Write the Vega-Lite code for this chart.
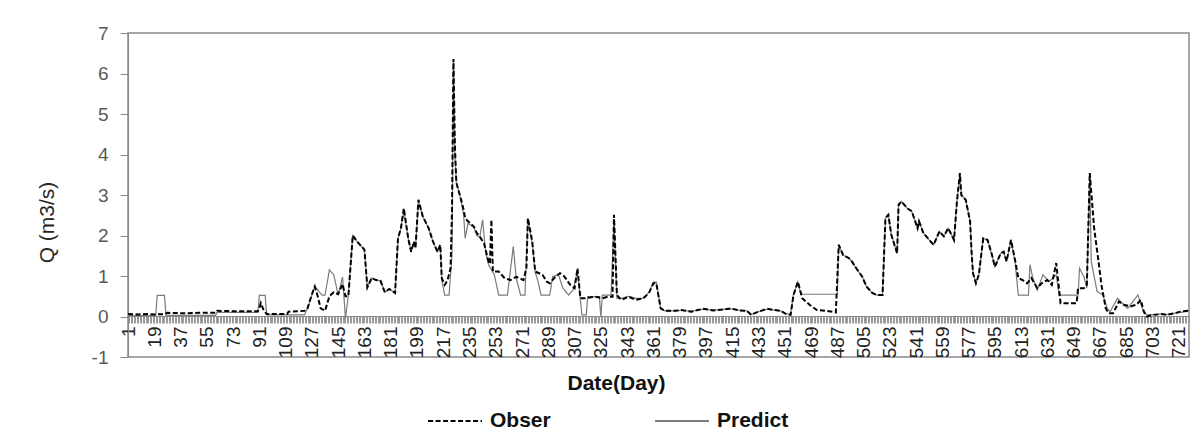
{
"$schema": "https://vega.github.io/schema/vega-lite/v6.json",
"width": 1061, "height": 324,
"autosize": {"type": "none"},
"padding": {"left": 128, "top": 33, "right": 11, "bottom": 85},
"background": "white",
"config": {"view": {"stroke": "#898989", "strokeWidth": 1.5}, "font": "Liberation Sans"},
"data": {"values": [
{"Series":"Obser","Day":1,"Q":0.06},{"Series":"Obser","Day":8,"Q":0.05},{"Series":"Obser","Day":14,"Q":0.06},{"Series":"Obser","Day":20,"Q":0.05},{"Series":"Obser","Day":26,"Q":0.06},{"Series":"Obser","Day":28,"Q":0.09},{"Series":"Obser","Day":40,"Q":0.08},{"Series":"Obser","Day":50,"Q":0.09},{"Series":"Obser","Day":61,"Q":0.09},{"Series":"Obser","Day":62,"Q":0.14},{"Series":"Obser","Day":75,"Q":0.13},{"Series":"Obser","Day":90,"Q":0.13},{"Series":"Obser","Day":91,"Q":0.2},{"Series":"Obser","Day":92,"Q":0.33},{"Series":"Obser","Day":94,"Q":0.15},{"Series":"Obser","Day":96,"Q":0.06},{"Series":"Obser","Day":110,"Q":0.06},{"Series":"Obser","Day":111,"Q":0.12},{"Series":"Obser","Day":118,"Q":0.13},{"Series":"Obser","Day":122,"Q":0.14},{"Series":"Obser","Day":124,"Q":0.2},{"Series":"Obser","Day":127,"Q":0.55},{"Series":"Obser","Day":129,"Q":0.74},{"Series":"Obser","Day":131,"Q":0.5},{"Series":"Obser","Day":133,"Q":0.2},{"Series":"Obser","Day":136,"Q":0.14},{"Series":"Obser","Day":139,"Q":0.5},{"Series":"Obser","Day":142,"Q":0.6},{"Series":"Obser","Day":145,"Q":0.55},{"Series":"Obser","Day":148,"Q":0.8},{"Series":"Obser","Day":150,"Q":0.5},{"Series":"Obser","Day":152,"Q":0.5},{"Series":"Obser","Day":155,"Q":2.0},{"Series":"Obser","Day":158,"Q":1.85},{"Series":"Obser","Day":161,"Q":1.73},{"Series":"Obser","Day":163,"Q":1.65},{"Series":"Obser","Day":165,"Q":0.72},{"Series":"Obser","Day":168,"Q":0.95},{"Series":"Obser","Day":171,"Q":0.9},{"Series":"Obser","Day":174,"Q":0.88},{"Series":"Obser","Day":177,"Q":0.6},{"Series":"Obser","Day":180,"Q":0.68},{"Series":"Obser","Day":184,"Q":0.58},{"Series":"Obser","Day":186,"Q":1.93},{"Series":"Obser","Day":188,"Q":2.18},{"Series":"Obser","Day":190,"Q":2.67},{"Series":"Obser","Day":193,"Q":1.93},{"Series":"Obser","Day":195,"Q":1.6},{"Series":"Obser","Day":197,"Q":1.85},{"Series":"Obser","Day":198,"Q":1.69},{"Series":"Obser","Day":200,"Q":2.88},{"Series":"Obser","Day":203,"Q":2.47},{"Series":"Obser","Day":207,"Q":2.18},{"Series":"Obser","Day":210,"Q":1.85},{"Series":"Obser","Day":213,"Q":1.6},{"Series":"Obser","Day":215,"Q":1.77},{"Series":"Obser","Day":216,"Q":0.95},{"Series":"Obser","Day":218,"Q":0.78},{"Series":"Obser","Day":220,"Q":0.9},{"Series":"Obser","Day":222,"Q":1.19},{"Series":"Obser","Day":223,"Q":2.6},{"Series":"Obser","Day":224,"Q":6.36},{"Series":"Obser","Day":225,"Q":4.2},{"Series":"Obser","Day":226,"Q":3.3},{"Series":"Obser","Day":229,"Q":2.92},{"Series":"Obser","Day":231,"Q":2.63},{"Series":"Obser","Day":232,"Q":2.43},{"Series":"Obser","Day":234,"Q":2.35},{"Series":"Obser","Day":238,"Q":2.22},{"Series":"Obser","Day":240,"Q":2.06},{"Series":"Obser","Day":242,"Q":1.98},{"Series":"Obser","Day":245,"Q":1.8},{"Series":"Obser","Day":248,"Q":1.36},{"Series":"Obser","Day":249,"Q":1.3},{"Series":"Obser","Day":250,"Q":2.39},{"Series":"Obser","Day":251,"Q":1.11},{"Series":"Obser","Day":255,"Q":1.11},{"Series":"Obser","Day":259,"Q":0.95},{"Series":"Obser","Day":263,"Q":0.9},{"Series":"Obser","Day":267,"Q":0.98},{"Series":"Obser","Day":272,"Q":0.9},{"Series":"Obser","Day":274,"Q":1.2},{"Series":"Obser","Day":275,"Q":2.43},{"Series":"Obser","Day":278,"Q":1.85},{"Series":"Obser","Day":280,"Q":1.11},{"Series":"Obser","Day":285,"Q":1.03},{"Series":"Obser","Day":288,"Q":0.86},{"Series":"Obser","Day":290,"Q":0.82},{"Series":"Obser","Day":294,"Q":0.99},{"Series":"Obser","Day":297,"Q":1.07},{"Series":"Obser","Day":300,"Q":0.99},{"Series":"Obser","Day":304,"Q":0.78},{"Series":"Obser","Day":307,"Q":0.7},{"Series":"Obser","Day":309,"Q":1.19},{"Series":"Obser","Day":311,"Q":0.45},{"Series":"Obser","Day":314,"Q":0.45},{"Series":"Obser","Day":321,"Q":0.49},{"Series":"Obser","Day":326,"Q":0.45},{"Series":"Obser","Day":330,"Q":0.49},{"Series":"Obser","Day":333,"Q":0.49},{"Series":"Obser","Day":334,"Q":2.51},{"Series":"Obser","Day":336,"Q":0.53},{"Series":"Obser","Day":339,"Q":0.41},{"Series":"Obser","Day":344,"Q":0.49},{"Series":"Obser","Day":349,"Q":0.41},{"Series":"Obser","Day":354,"Q":0.45},{"Series":"Obser","Day":358,"Q":0.58},{"Series":"Obser","Day":361,"Q":0.82},{"Series":"Obser","Day":363,"Q":0.82},{"Series":"Obser","Day":366,"Q":0.2},{"Series":"Obser","Day":369,"Q":0.14},{"Series":"Obser","Day":376,"Q":0.14},{"Series":"Obser","Day":380,"Q":0.16},{"Series":"Obser","Day":387,"Q":0.12},{"Series":"Obser","Day":395,"Q":0.19},{"Series":"Obser","Day":402,"Q":0.15},{"Series":"Obser","Day":408,"Q":0.17},{"Series":"Obser","Day":414,"Q":0.2},{"Series":"Obser","Day":420,"Q":0.15},{"Series":"Obser","Day":425,"Q":0.14},{"Series":"Obser","Day":428,"Q":0.04},{"Series":"Obser","Day":433,"Q":0.12},{"Series":"Obser","Day":439,"Q":0.19},{"Series":"Obser","Day":444,"Q":0.16},{"Series":"Obser","Day":448,"Q":0.14},{"Series":"Obser","Day":452,"Q":0.06},{"Series":"Obser","Day":455,"Q":0.04},{"Series":"Obser","Day":457,"Q":0.53},{"Series":"Obser","Day":460,"Q":0.86},{"Series":"Obser","Day":463,"Q":0.45},{"Series":"Obser","Day":468,"Q":0.29},{"Series":"Obser","Day":473,"Q":0.16},{"Series":"Obser","Day":480,"Q":0.14},{"Series":"Obser","Day":486,"Q":0.1},{"Series":"Obser","Day":488,"Q":1.77},{"Series":"Obser","Day":491,"Q":1.52},{"Series":"Obser","Day":495,"Q":1.44},{"Series":"Obser","Day":497,"Q":1.36},{"Series":"Obser","Day":500,"Q":1.19},{"Series":"Obser","Day":504,"Q":0.99},{"Series":"Obser","Day":507,"Q":0.74},{"Series":"Obser","Day":511,"Q":0.58},{"Series":"Obser","Day":514,"Q":0.53},{"Series":"Obser","Day":518,"Q":0.53},{"Series":"Obser","Day":520,"Q":2.43},{"Series":"Obser","Day":522,"Q":2.51},{"Series":"Obser","Day":524,"Q":2.02},{"Series":"Obser","Day":528,"Q":1.56},{"Series":"Obser","Day":529,"Q":2.76},{"Series":"Obser","Day":531,"Q":2.84},{"Series":"Obser","Day":535,"Q":2.67},{"Series":"Obser","Day":538,"Q":2.6},{"Series":"Obser","Day":542,"Q":2.18},{"Series":"Obser","Day":543,"Q":2.35},{"Series":"Obser","Day":546,"Q":2.06},{"Series":"Obser","Day":550,"Q":1.89},{"Series":"Obser","Day":553,"Q":1.77},{"Series":"Obser","Day":557,"Q":2.1},{"Series":"Obser","Day":560,"Q":1.98},{"Series":"Obser","Day":563,"Q":2.18},{"Series":"Obser","Day":567,"Q":1.89},{"Series":"Obser","Day":569,"Q":2.84},{"Series":"Obser","Day":571,"Q":3.54},{"Series":"Obser","Day":572,"Q":3.0},{"Series":"Obser","Day":575,"Q":2.88},{"Series":"Obser","Day":578,"Q":2.35},{"Series":"Obser","Day":579,"Q":1.6},{"Series":"Obser","Day":580,"Q":1.07},{"Series":"Obser","Day":582,"Q":0.82},{"Series":"Obser","Day":584,"Q":1.03},{"Series":"Obser","Day":587,"Q":1.93},{"Series":"Obser","Day":590,"Q":1.89},{"Series":"Obser","Day":593,"Q":1.52},{"Series":"Obser","Day":595,"Q":1.23},{"Series":"Obser","Day":599,"Q":1.56},{"Series":"Obser","Day":601,"Q":1.6},{"Series":"Obser","Day":603,"Q":1.36},{"Series":"Obser","Day":606,"Q":1.89},{"Series":"Obser","Day":609,"Q":1.36},{"Series":"Obser","Day":611,"Q":0.95},{"Series":"Obser","Day":614,"Q":0.9},{"Series":"Obser","Day":617,"Q":0.82},{"Series":"Obser","Day":620,"Q":0.95},{"Series":"Obser","Day":624,"Q":0.7},{"Series":"Obser","Day":627,"Q":0.82},{"Series":"Obser","Day":631,"Q":0.9},{"Series":"Obser","Day":634,"Q":0.78},{"Series":"Obser","Day":637,"Q":1.32},{"Series":"Obser","Day":640,"Q":0.33},{"Series":"Obser","Day":651,"Q":0.33},{"Series":"Obser","Day":652,"Q":0.7},{"Series":"Obser","Day":656,"Q":0.7},{"Series":"Obser","Day":658,"Q":0.78},{"Series":"Obser","Day":660,"Q":3.54},{"Series":"Obser","Day":663,"Q":2.18},{"Series":"Obser","Day":666,"Q":1.36},{"Series":"Obser","Day":668,"Q":0.78},{"Series":"Obser","Day":671,"Q":0.2},{"Series":"Obser","Day":673,"Q":0.08},{"Series":"Obser","Day":676,"Q":0.08},{"Series":"Obser","Day":680,"Q":0.37},{"Series":"Obser","Day":683,"Q":0.29},{"Series":"Obser","Day":688,"Q":0.25},{"Series":"Obser","Day":692,"Q":0.29},{"Series":"Obser","Day":695,"Q":0.41},{"Series":"Obser","Day":697,"Q":0.12},{"Series":"Obser","Day":699,"Q":0.0},{"Series":"Obser","Day":704,"Q":0.04},{"Series":"Obser","Day":709,"Q":0.06},{"Series":"Obser","Day":713,"Q":0.04},{"Series":"Obser","Day":718,"Q":0.08},{"Series":"Obser","Day":722,"Q":0.12},{"Series":"Obser","Day":727,"Q":0.14},{"Series":"Obser","Day":728,"Q":0.12},
{"Series":"Predict","Day":1,"Q":0.02},{"Series":"Predict","Day":20,"Q":0.02},{"Series":"Predict","Day":21,"Q":0.52},{"Series":"Predict","Day":26,"Q":0.52},{"Series":"Predict","Day":27,"Q":0.03},{"Series":"Predict","Day":61,"Q":0.03},{"Series":"Predict","Day":62,"Q":0.1},{"Series":"Predict","Day":90,"Q":0.1},{"Series":"Predict","Day":91,"Q":0.52},{"Series":"Predict","Day":95,"Q":0.52},{"Series":"Predict","Day":96,"Q":0.04},{"Series":"Predict","Day":122,"Q":0.04},{"Series":"Predict","Day":125,"Q":0.3},{"Series":"Predict","Day":127,"Q":0.53},{"Series":"Predict","Day":129,"Q":0.74},{"Series":"Predict","Day":134,"Q":0.53},{"Series":"Predict","Day":136,"Q":0.53},{"Series":"Predict","Day":139,"Q":1.15},{"Series":"Predict","Day":142,"Q":1.03},{"Series":"Predict","Day":145,"Q":0.53},{"Series":"Predict","Day":148,"Q":0.98},{"Series":"Predict","Day":150,"Q":-0.05},{"Series":"Predict","Day":152,"Q":0.53},{"Series":"Predict","Day":155,"Q":2.0},{"Series":"Predict","Day":158,"Q":1.85},{"Series":"Predict","Day":161,"Q":1.73},{"Series":"Predict","Day":163,"Q":1.65},{"Series":"Predict","Day":165,"Q":0.72},{"Series":"Predict","Day":168,"Q":0.95},{"Series":"Predict","Day":171,"Q":0.9},{"Series":"Predict","Day":174,"Q":0.88},{"Series":"Predict","Day":177,"Q":0.6},{"Series":"Predict","Day":180,"Q":0.68},{"Series":"Predict","Day":184,"Q":0.58},{"Series":"Predict","Day":186,"Q":1.93},{"Series":"Predict","Day":188,"Q":2.18},{"Series":"Predict","Day":190,"Q":2.6},{"Series":"Predict","Day":193,"Q":1.93},{"Series":"Predict","Day":195,"Q":1.6},{"Series":"Predict","Day":197,"Q":1.85},{"Series":"Predict","Day":198,"Q":1.69},{"Series":"Predict","Day":200,"Q":2.85},{"Series":"Predict","Day":203,"Q":2.47},{"Series":"Predict","Day":207,"Q":2.18},{"Series":"Predict","Day":210,"Q":1.85},{"Series":"Predict","Day":213,"Q":1.6},{"Series":"Predict","Day":215,"Q":1.7},{"Series":"Predict","Day":216,"Q":0.9},{"Series":"Predict","Day":218,"Q":0.53},{"Series":"Predict","Day":221,"Q":0.53},{"Series":"Predict","Day":223,"Q":1.5},{"Series":"Predict","Day":224,"Q":6.3},{"Series":"Predict","Day":225,"Q":4.0},{"Series":"Predict","Day":226,"Q":3.3},{"Series":"Predict","Day":229,"Q":2.9},{"Series":"Predict","Day":231,"Q":2.5},{"Series":"Predict","Day":232,"Q":1.93},{"Series":"Predict","Day":234,"Q":2.3},{"Series":"Predict","Day":238,"Q":2.2},{"Series":"Predict","Day":240,"Q":2.0},{"Series":"Predict","Day":242,"Q":1.95},{"Series":"Predict","Day":244,"Q":2.39},{"Series":"Predict","Day":246,"Q":1.6},{"Series":"Predict","Day":248,"Q":1.28},{"Series":"Predict","Day":252,"Q":1.03},{"Series":"Predict","Day":255,"Q":0.53},{"Series":"Predict","Day":261,"Q":0.53},{"Series":"Predict","Day":265,"Q":1.73},{"Series":"Predict","Day":267,"Q":0.95},{"Series":"Predict","Day":270,"Q":0.53},{"Series":"Predict","Day":273,"Q":0.53},{"Series":"Predict","Day":275,"Q":2.4},{"Series":"Predict","Day":278,"Q":1.8},{"Series":"Predict","Day":280,"Q":1.1},{"Series":"Predict","Day":282,"Q":0.86},{"Series":"Predict","Day":284,"Q":0.53},{"Series":"Predict","Day":290,"Q":0.53},{"Series":"Predict","Day":292,"Q":0.99},{"Series":"Predict","Day":296,"Q":1.03},{"Series":"Predict","Day":299,"Q":0.7},{"Series":"Predict","Day":303,"Q":0.53},{"Series":"Predict","Day":306,"Q":0.66},{"Series":"Predict","Day":309,"Q":1.11},{"Series":"Predict","Day":312,"Q":0.04},{"Series":"Predict","Day":315,"Q":0.04},{"Series":"Predict","Day":316,"Q":0.49},{"Series":"Predict","Day":324,"Q":0.49},{"Series":"Predict","Day":325,"Q":-0.02},{"Series":"Predict","Day":326,"Q":0.53},{"Series":"Predict","Day":332,"Q":0.53},{"Series":"Predict","Day":334,"Q":2.4},{"Series":"Predict","Day":336,"Q":0.45},{"Series":"Predict","Day":339,"Q":0.45},{"Series":"Predict","Day":344,"Q":0.5},{"Series":"Predict","Day":349,"Q":0.45},{"Series":"Predict","Day":354,"Q":0.45},{"Series":"Predict","Day":358,"Q":0.6},{"Series":"Predict","Day":361,"Q":0.85},{"Series":"Predict","Day":363,"Q":0.85},{"Series":"Predict","Day":366,"Q":0.2},{"Series":"Predict","Day":369,"Q":0.14},{"Series":"Predict","Day":376,"Q":0.14},{"Series":"Predict","Day":380,"Q":0.15},{"Series":"Predict","Day":387,"Q":0.13},{"Series":"Predict","Day":395,"Q":0.18},{"Series":"Predict","Day":402,"Q":0.16},{"Series":"Predict","Day":408,"Q":0.17},{"Series":"Predict","Day":414,"Q":0.19},{"Series":"Predict","Day":420,"Q":0.15},{"Series":"Predict","Day":425,"Q":0.14},{"Series":"Predict","Day":428,"Q":0.05},{"Series":"Predict","Day":433,"Q":0.12},{"Series":"Predict","Day":439,"Q":0.18},{"Series":"Predict","Day":444,"Q":0.16},{"Series":"Predict","Day":448,"Q":0.14},{"Series":"Predict","Day":452,"Q":0.07},{"Series":"Predict","Day":455,"Q":0.05},{"Series":"Predict","Day":457,"Q":0.55},{"Series":"Predict","Day":460,"Q":0.86},{"Series":"Predict","Day":462,"Q":0.55},{"Series":"Predict","Day":487,"Q":0.55},{"Series":"Predict","Day":488,"Q":1.77},{"Series":"Predict","Day":491,"Q":1.52},{"Series":"Predict","Day":495,"Q":1.44},{"Series":"Predict","Day":497,"Q":1.36},{"Series":"Predict","Day":500,"Q":1.19},{"Series":"Predict","Day":504,"Q":0.99},{"Series":"Predict","Day":507,"Q":0.74},{"Series":"Predict","Day":511,"Q":0.58},{"Series":"Predict","Day":514,"Q":0.53},{"Series":"Predict","Day":518,"Q":0.53},{"Series":"Predict","Day":520,"Q":2.43},{"Series":"Predict","Day":522,"Q":2.51},{"Series":"Predict","Day":524,"Q":2.02},{"Series":"Predict","Day":528,"Q":1.56},{"Series":"Predict","Day":529,"Q":2.76},{"Series":"Predict","Day":531,"Q":2.84},{"Series":"Predict","Day":535,"Q":2.67},{"Series":"Predict","Day":538,"Q":2.6},{"Series":"Predict","Day":542,"Q":2.18},{"Series":"Predict","Day":543,"Q":2.35},{"Series":"Predict","Day":546,"Q":2.06},{"Series":"Predict","Day":550,"Q":1.89},{"Series":"Predict","Day":553,"Q":1.77},{"Series":"Predict","Day":557,"Q":2.1},{"Series":"Predict","Day":560,"Q":1.98},{"Series":"Predict","Day":563,"Q":2.18},{"Series":"Predict","Day":567,"Q":1.89},{"Series":"Predict","Day":569,"Q":2.84},{"Series":"Predict","Day":571,"Q":3.5},{"Series":"Predict","Day":572,"Q":3.0},{"Series":"Predict","Day":575,"Q":2.88},{"Series":"Predict","Day":578,"Q":2.35},{"Series":"Predict","Day":579,"Q":1.6},{"Series":"Predict","Day":580,"Q":1.07},{"Series":"Predict","Day":582,"Q":0.82},{"Series":"Predict","Day":584,"Q":1.03},{"Series":"Predict","Day":587,"Q":1.93},{"Series":"Predict","Day":590,"Q":1.89},{"Series":"Predict","Day":593,"Q":1.52},{"Series":"Predict","Day":595,"Q":1.23},{"Series":"Predict","Day":599,"Q":1.56},{"Series":"Predict","Day":601,"Q":1.6},{"Series":"Predict","Day":603,"Q":1.36},{"Series":"Predict","Day":606,"Q":1.89},{"Series":"Predict","Day":609,"Q":1.3},{"Series":"Predict","Day":611,"Q":0.53},{"Series":"Predict","Day":618,"Q":0.53},{"Series":"Predict","Day":619,"Q":1.28},{"Series":"Predict","Day":621,"Q":0.95},{"Series":"Predict","Day":624,"Q":0.65},{"Series":"Predict","Day":628,"Q":1.03},{"Series":"Predict","Day":632,"Q":0.86},{"Series":"Predict","Day":637,"Q":1.03},{"Series":"Predict","Day":639,"Q":0.53},{"Series":"Predict","Day":652,"Q":0.53},{"Series":"Predict","Day":653,"Q":1.19},{"Series":"Predict","Day":656,"Q":0.98},{"Series":"Predict","Day":658,"Q":0.7},{"Series":"Predict","Day":660,"Q":3.5},{"Series":"Predict","Day":661,"Q":1.36},{"Series":"Predict","Day":665,"Q":0.62},{"Series":"Predict","Day":669,"Q":0.53},{"Series":"Predict","Day":672,"Q":0.2},{"Series":"Predict","Day":674,"Q":0.12},{"Series":"Predict","Day":679,"Q":0.45},{"Series":"Predict","Day":686,"Q":0.2},{"Series":"Predict","Day":693,"Q":0.53},{"Series":"Predict","Day":696,"Q":0.2},{"Series":"Predict","Day":699,"Q":0.04},{"Series":"Predict","Day":704,"Q":0.05},{"Series":"Predict","Day":709,"Q":0.06},{"Series":"Predict","Day":713,"Q":0.05},{"Series":"Predict","Day":718,"Q":0.08},{"Series":"Predict","Day":722,"Q":0.1},{"Series":"Predict","Day":727,"Q":0.13},{"Series":"Predict","Day":728,"Q":0.12}
]},
"encoding": {
  "x": {"field": "Day", "type": "quantitative",
    "scale": {"domain": [1, 728], "nice": false, "zero": false},
    "axis": {"offset": -41, "tickCount": 728, "labelExpr": "(datum.value - 1) % 18 === 0 ? datum.label : ''",
      "labelOverlap": false, "labelFlush": false, "labelBound": false, "labelAngle": 270,
      "labelFontSize": 19, "labelColor": "#222222", "labelPadding": 3,
      "tickSize": 7, "tickColor": "#9a9a9a", "tickWidth": 1, "domainColor": "#898989", "domainWidth": 1.2, "grid": false,
      "title": "Date(Day)", "titleFontSize": 21, "titleFontWeight": "bold", "titleColor": "#111111",
      "titleX": 488, "titleY": 67, "titleAlign": "center", "titleBaseline": "middle"}},
  "y": {"field": "Q", "type": "quantitative",
    "scale": {"domain": [-1, 7], "nice": false, "zero": false},
    "axis": {"values": [-1, 0, 1, 2, 3, 4, 5, 6, 7], "labelExpr": "'' + datum.value", "grid": false, "tickSize": 8, "tickColor": "#898989",
      "domainColor": "#898989", "labelFontSize": 19, "labelColor": "#595959", "labelPadding": 12,
      "title": "Q (m3/s)", "titleFontSize": 21, "titleFontWeight": "normal", "titleColor": "#262626",
      "titleX": -81, "titleY": 189, "titleAngle": 270, "titleAlign": "center", "titleBaseline": "middle"}},
  "color": {"field": "Series", "type": "nominal",
    "scale": {"domain": ["Obser", "Predict"], "range": ["#000000", "#7a7a7a"]},
    "legend": {"orient": "none", "legendX": 299, "legendY": 360, "direction": "horizontal", "title": null,
      "symbolType": "stroke", "symbolSize": 2900, "symbolStrokeWidth": 1.8,
      "labelFontSize": 21, "labelFontWeight": "bold", "labelColor": "#111111", "labelOffset": 7, "columnPadding": 100}},
  "strokeDash": {"field": "Series", "type": "nominal",
    "scale": {"domain": ["Obser", "Predict"], "range": [[5, 2.5], [1, 0]]},
    "legend": {"orient": "none", "legendX": 299, "legendY": 360, "direction": "horizontal", "title": null,
      "symbolType": "stroke", "symbolSize": 2900, "symbolStrokeWidth": 1.8,
      "labelFontSize": 21, "labelFontWeight": "bold", "labelColor": "#111111", "labelOffset": 7, "columnPadding": 100}}
},
"layer": [
  {"transform": [{"filter": "datum.Series === 'Predict'"}], "mark": {"type": "line", "strokeWidth": 1.2}},
  {"transform": [{"filter": "datum.Series === 'Obser'"}], "mark": {"type": "line", "strokeWidth": 2}}
]
}
